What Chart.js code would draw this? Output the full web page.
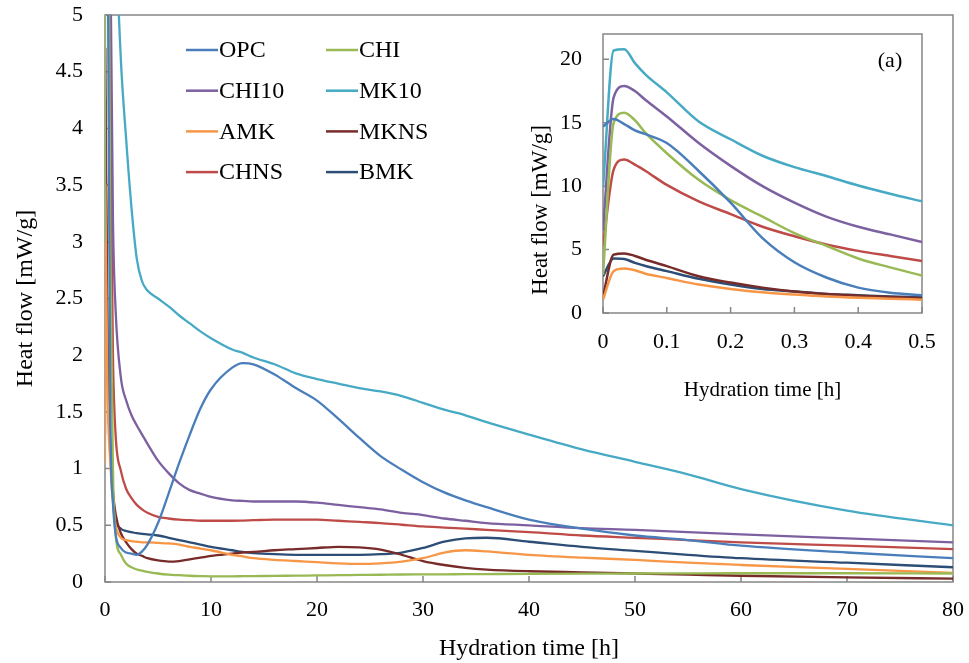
<!DOCTYPE html>
<html>
<head>
<meta charset="utf-8">
<script src="https://cdn.jsdelivr.net/npm/chart.js@4.4.1/dist/chart.umd.min.js"></script>
<style>
  html, body { margin: 0; padding: 0; background: #ffffff; }
  #wrap { position: relative; width: 969px; height: 663px; }
  #mainChart { position: absolute; left: 0; top: 0; }
  #insetChart { position: absolute; left: 520px; top: 15px; }
</style>
</head>
<body>
<div id="wrap">
  <canvas id="mainChart" width="969" height="663"></canvas>
  <canvas id="insetChart" width="433" height="395"></canvas>
</div>
<script>
// series names and colours (legend order)
var seriesNames = ['OPC', 'CHI', 'CHI10', 'MK10', 'AMK', 'MKNS', 'CHNS', 'BMK'];
var seriesColors = ['#4a7ebb', '#98b954', '#7d60a0', '#46aac5', '#f79646', '#772c2a', '#be4b48', '#2c4d75'];

// main plot: hydration time [h]
var mainHours = [0, 0.0333, 0.1, 0.25, 0.5, 0.75, 1, 1.5, 2, 2.5, 3, 3.5, 4, 5, 6, 7, 8, 9, 10, 12,
                 13, 14, 16, 18, 20, 22, 24, 26, 28, 30, 32, 34, 36, 40, 45, 50, 55, 60, 70, 80];
// heat flow [mW/g]
var mainOPC   = [14.7, 14.9, 13.4, 5.8, 1.45, 0.7, 0.42, 0.3, 0.26, 0.25, 0.24, 0.27, 0.33, 0.52, 0.78, 1.05, 1.3, 1.53, 1.7, 1.89,
                 1.93, 1.92, 1.83, 1.71, 1.6, 1.44, 1.27, 1.11, 0.99, 0.88, 0.79, 0.72, 0.66, 0.55, 0.47, 0.41, 0.37, 0.32, 0.26, 0.21];
var mainCHI   = [3.0, 15.8, 12.6, 7.6, 2.95, 1.0, 0.42, 0.24, 0.16, 0.13, 0.11, 0.1, 0.09, 0.075, 0.065, 0.06, 0.055, 0.052, 0.05, 0.05,
                 0.051, 0.052, 0.054, 0.056, 0.058, 0.06, 0.062, 0.064, 0.066, 0.067, 0.068, 0.069, 0.07, 0.072, 0.074, 0.075, 0.076, 0.077, 0.077, 0.075];
var mainCHI10 = [6.5, 17.9, 15.5, 10.0, 5.6, 3.2, 2.4, 1.8, 1.6, 1.47, 1.38, 1.3, 1.22, 1.07, 0.96, 0.87, 0.81, 0.78, 0.75, 0.72,
                 0.715, 0.71, 0.71, 0.71, 0.7, 0.68, 0.66, 0.64, 0.61, 0.59, 0.56, 0.54, 0.52, 0.5, 0.475, 0.46, 0.44, 0.42, 0.385, 0.35];
var mainMK10  = [9.9, 20.8, 17.4, 12.4, 8.8, 6.8, 5.8, 4.6, 3.9, 3.3, 2.85, 2.65, 2.57, 2.5, 2.43, 2.35, 2.28, 2.21, 2.15, 2.05,
                 2.02, 1.98, 1.92, 1.84, 1.79, 1.75, 1.71, 1.68, 1.64, 1.58, 1.52, 1.47, 1.41, 1.3, 1.17, 1.06, 0.95, 0.82, 0.63, 0.5];
var mainAMK   = [1.05, 3.5, 2.76, 1.63, 1.05, 0.7, 0.5, 0.39, 0.37, 0.36, 0.355, 0.35, 0.35, 0.345, 0.34, 0.33, 0.31, 0.295, 0.28, 0.24,
                 0.225, 0.21, 0.195, 0.185, 0.175, 0.165, 0.16, 0.165, 0.18, 0.21, 0.26, 0.28, 0.27, 0.24, 0.215, 0.195, 0.17, 0.15, 0.115, 0.08];
var mainMKNS  = [1.3, 4.7, 3.7, 2.0, 1.18, 0.8, 0.6, 0.43, 0.35, 0.29, 0.25, 0.23, 0.21, 0.19, 0.18, 0.185, 0.2, 0.215, 0.23, 0.25,
                 0.26, 0.265, 0.28, 0.29, 0.3, 0.31, 0.305, 0.285, 0.24, 0.185, 0.15, 0.125, 0.11, 0.095, 0.085, 0.075, 0.065, 0.055, 0.04, 0.03];
var mainCHNS  = [5.3, 12.1, 10.1, 6.8, 4.1, 2.0, 1.3, 0.98, 0.82, 0.74, 0.68, 0.64, 0.61, 0.575, 0.56, 0.55, 0.545, 0.54, 0.54, 0.54,
                 0.542, 0.545, 0.55, 0.55, 0.55, 0.54, 0.53, 0.52, 0.505, 0.49, 0.48, 0.47, 0.46, 0.44, 0.41, 0.39, 0.37, 0.35, 0.32, 0.29];
var mainBMK   = [2.9, 4.26, 3.3, 1.9, 1.24, 0.75, 0.55, 0.47, 0.45, 0.44, 0.43, 0.425, 0.42, 0.41, 0.39, 0.37, 0.35, 0.33, 0.31, 0.28,
                 0.265, 0.255, 0.245, 0.24, 0.24, 0.24, 0.24, 0.245, 0.26, 0.3, 0.355, 0.385, 0.39, 0.355, 0.31, 0.275, 0.24, 0.21, 0.17, 0.13];

// inset (a): first half hour
var insetHours = [0, 0.0167, 0.0333, 0.05, 0.0667, 0.1, 0.15, 0.2, 0.25, 0.3, 0.35, 0.4, 0.45, 0.5];
var insetOPC   = [14.7, 15.3, 14.9, 14.4, 14.1, 13.4, 11.2, 8.7, 5.9, 4.0, 2.8, 2.0, 1.6, 1.4];
var insetCHI   = [3.0, 15.0, 15.8, 15.2, 14.2, 12.6, 10.5, 8.9, 7.6, 6.3, 5.3, 4.3, 3.6, 2.95];
var insetCHI10 = [6.5, 17.0, 17.9, 17.5, 16.8, 15.5, 13.4, 11.6, 10.0, 8.7, 7.6, 6.8, 6.2, 5.6];
var insetMK10  = [9.9, 20.7, 20.8, 19.7, 18.8, 17.4, 15.1, 13.7, 12.4, 11.5, 10.8, 10.05, 9.4, 8.8];
var insetAMK   = [1.05, 3.3, 3.5, 3.37, 3.1, 2.76, 2.24, 1.9, 1.63, 1.45, 1.3, 1.2, 1.13, 1.05];
var insetMKNS  = [1.3, 4.6, 4.7, 4.5, 4.2, 3.7, 2.9, 2.4, 2.0, 1.7, 1.5, 1.37, 1.26, 1.18];
var insetCHNS  = [5.3, 11.3, 12.1, 11.7, 11.2, 10.1, 8.8, 7.8, 6.8, 6.05, 5.4, 4.9, 4.5, 4.1];
var insetBMK   = [2.9, 4.3, 4.26, 3.95, 3.7, 3.3, 2.7, 2.25, 1.9, 1.7, 1.5, 1.4, 1.3, 1.24];

var mainTicksX = [0, 10, 20, 30, 40, 50, 60, 70, 80];
var insetTicksY = [0, 5, 10, 15, 20];

var mainValues = [mainOPC, mainCHI, mainCHI10, mainMK10, mainAMK, mainMKNS, mainCHNS, mainBMK];
var insetValues = [insetOPC, insetCHI, insetCHI10, insetMK10, insetAMK, insetMKNS, insetCHNS, insetBMK];

var serif = "'Liberation Serif', 'Times New Roman', serif";
var axisColor = '#868686';
Chart.defaults.font.family = serif;
Chart.defaults.color = '#000000';

function makeDatasets(hours, values, width) {
	var sets = new Array();
	seriesNames.forEach(function(name, i) {
		var pts = new Array();
		hours.forEach(function(h, k) {
			pts.push({x: h, y: values[i][k]});
		});
		sets.push({
			label: name,
			data: pts,
			borderColor: seriesColors[i],
			backgroundColor: seriesColors[i],
			borderWidth: width,
			pointRadius: 0,
			fill: false,
			cubicInterpolationMode: 'monotone'
		});
	});
	return sets;
}

// no automatic label overflow padding, the plot box is fixed
function noPad(scale) {
	scale.paddingLeft = 0;
	scale.paddingRight = 0;
	scale.paddingTop = 0;
	scale.paddingBottom = 0;
}

// plot frame with small ticks pointing inwards
var frameTicks = {
	id: 'frameTicks',
	beforeDatasetsDraw: function(chart) {
		var ctx = chart.ctx, a = chart.chartArea;
		var xs = chart.scales.x, ys = chart.scales.y;
		ctx.save();
		ctx.strokeStyle = axisColor;
		ctx.lineWidth = 1.5;
		ctx.strokeRect(a.left, a.top, a.right - a.left, a.bottom - a.top);
		ctx.beginPath();
		xs.ticks.forEach(function(t) {
			var px = xs.getPixelForValue(t.value);
			ctx.moveTo(px, a.bottom);
			ctx.lineTo(px, a.bottom - 6);
		});
		ys.ticks.forEach(function(t) {
			var py = ys.getPixelForValue(t.value);
			ctx.moveTo(a.left, py);
			ctx.lineTo(a.left + 6, py);
		});
		ctx.stroke();
		ctx.restore();
	}
};

// two-column legend inside the main plot
var legendBox = {
	id: 'legendBox',
	afterDraw: function(chart) {
		var ctx = chart.ctx;
		ctx.save();
		ctx.font = '24px ' + serif;
		ctx.textBaseline = 'middle';
		ctx.textAlign = 'left';
		chart.data.datasets.forEach(function(ds, i) {
			var x0 = (i % 2 === 0) ? 186 : 326;
			var y0 = 50 + Math.floor(i / 2) * 40.7;
			ctx.strokeStyle = ds.borderColor;
			ctx.lineWidth = 2.5;
			ctx.beginPath();
			ctx.moveTo(x0, y0);
			ctx.lineTo(x0 + 32, y0);
			ctx.stroke();
			ctx.fillStyle = '#000000';
			ctx.fillText(ds.label, x0 + 33, y0 + 1);
		});
		ctx.restore();
	}
};

// inset extras: rotated y title and panel tag
var insetText = {
	id: 'insetText',
	afterDraw: function(chart) {
		var ctx = chart.ctx;
		ctx.save();
		ctx.fillStyle = '#000000';
		ctx.textAlign = 'center';
		ctx.textBaseline = 'middle';
		ctx.font = '22px ' + serif;
		ctx.fillText('(a)', 370, 46);
		ctx.translate(21, 195);
		ctx.rotate(-Math.PI / 2);
		ctx.font = '23px ' + serif;
		ctx.fillText('Heat flow [mW/g]', 0, 0);
		ctx.restore();
	}
};

var mainConfig = {
	type: 'line',
	data: { datasets: makeDatasets(mainHours, mainValues, 2.3) },
	options: {
		responsive: false,
		animation: false,
		layout: { padding: { left: 0, right: 16, top: 15, bottom: 0 } },
		plugins: { legend: { display: false }, tooltip: { enabled: false } },
		scales: {
			x: {
				type: 'linear', min: 0, max: 80,
				afterBuildTicks: function(scale) {
					scale.ticks = mainTicksX.map(function(v) { return {value: v}; });
				},
				afterFit: function(scale) { scale.height = 81; noPad(scale); },
				grid: { display: false, drawTicks: false },
				border: { display: false },
				ticks: { font: { size: 22 }, padding: 15, maxRotation: 0, color: '#000' },
				title: { display: true, text: 'Hydration time [h]', font: { size: 24 }, padding: { top: 0, bottom: 0 }, color: '#000' }
			},
			y: {
				min: 0, max: 5,
				afterFit: function(scale) { scale.width = 105; noPad(scale); },
				grid: { display: false, drawTicks: false },
				border: { display: false },
				ticks: {
					stepSize: 0.5, font: { size: 22 }, padding: 22, color: '#000',
					callback: function(v) { return String(v); }
				},
				title: { display: true, text: 'Heat flow [mW/g]', font: { size: 24 }, padding: { top: 11, bottom: 0 }, color: '#000' }
			}
		}
	},
	plugins: [frameTicks, legendBox]
};

var insetConfig = {
	type: 'line',
	data: { datasets: makeDatasets(insetHours, insetValues, 2.5) },
	options: {
		responsive: false,
		animation: false,
		layout: { padding: { left: 0, right: 31, top: 19, bottom: 0 } },
		plugins: { legend: { display: false }, tooltip: { enabled: false } },
		scales: {
			x: {
				type: 'linear', min: 0, max: 0.5,
				afterFit: function(scale) { scale.height = 97; noPad(scale); },
				grid: { display: false, drawTicks: false },
				border: { display: false },
				ticks: { stepSize: 0.1, font: { size: 22 }, padding: 16, maxRotation: 0, color: '#000' },
				title: { display: true, text: 'Hydration time [h]', font: { size: 21 }, padding: { top: 0, bottom: 7 }, color: '#000' }
			},
			y: {
				min: 0, max: 22,
				afterBuildTicks: function(scale) {
					scale.ticks = insetTicksY.map(function(v) { return {value: v}; });
				},
				afterFit: function(scale) { scale.width = 83; noPad(scale); },
				grid: { display: false, drawTicks: false },
				border: { display: false },
				ticks: { font: { size: 22 }, padding: 21, color: '#000' }
			}
		}
	},
	plugins: [frameTicks, insetText]
};

window.main_chart = new Chart(document.getElementById('mainChart').getContext('2d'), mainConfig);
window.inset_chart = new Chart(document.getElementById('insetChart').getContext('2d'), insetConfig);
</script>
</body>
</html>
